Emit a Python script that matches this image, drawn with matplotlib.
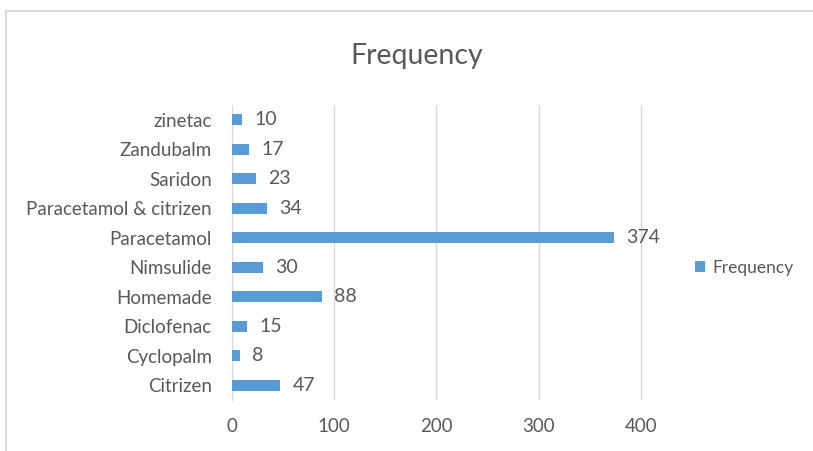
import matplotlib
matplotlib.use("Agg")
import matplotlib.pyplot as plt
from matplotlib.lines import Line2D
from matplotlib.patches import Patch

plt.rcParams['font.family'] = ['Lato', 'DejaVu Sans']

categories = ["Citrizen", "Cyclopalm", "Diclofenac", "Homemade", "Nimsulide",
              "Paracetamol", "Paracetamol & citrizen", "Saridon", "Zandubalm", "zinetac"]
frequency = [47, 8, 15, 88, 30, 374, 34, 23, 17, 10]
x_ticks = [0, 100, 200, 300, 400]

bar_color = "#5B9BD5"
text_color = "#595959"
grid_color = "#D9D9D9"

fig = plt.figure(figsize=(8.13, 4.51), dpi=100)
ax = fig.add_axes([232 / 813, 1 - 400 / 451, 460 / 813, 295 / 451])

y = range(len(categories))
ax.barh(y, frequency, height=0.38, color=bar_color, zorder=3)
for yi, v in zip(y, frequency):
    ax.text(v + 12, yi, str(v), va="center", ha="left", fontsize=14, color=text_color)

ax.set_xlim(0, 450)
ax.set_ylim(-0.5, len(categories) - 0.5)
ax.set_xticks(x_ticks)
ax.set_xticklabels([str(t) for t in x_ticks], fontsize=13.5, color=text_color)
ax.set_yticks(list(y))
ax.set_yticklabels(categories, fontsize=13.5, color=text_color)
ax.tick_params(axis="both", length=0)
ax.tick_params(axis="x", pad=13)
ax.tick_params(axis="y", pad=14.5)
ax.grid(axis="x", color=grid_color, linewidth=1, zorder=0)
for s in ["top", "right", "bottom"]:
    ax.spines[s].set_visible(False)
ax.spines["left"].set_color(grid_color)

fig.text(417 / 813, 1 - 56 / 451, "Frequency", ha="center", va="center",
         fontsize=20.5, color=text_color)

fig.legend(handles=[Patch(facecolor=bar_color, label="Frequency")],
           loc="center left", bbox_to_anchor=(679 / 813, 1 - 268 / 451),
           frameon=False, fontsize=12.5, handlelength=0.6, handleheight=0.6,
           handletextpad=0.4, labelcolor=text_color)

# chart frame
fig.add_artist(Line2D([6 / 813, 6 / 813], [0, 1 - 11 / 451], transform=fig.transFigure,
                      color="#D9D9D9", linewidth=1.5))
fig.add_artist(Line2D([6 / 813, 1], [1 - 11 / 451, 1 - 11 / 451], transform=fig.transFigure,
                      color="#D9D9D9", linewidth=1.5))

fig.savefig("out.png", dpi=100)
